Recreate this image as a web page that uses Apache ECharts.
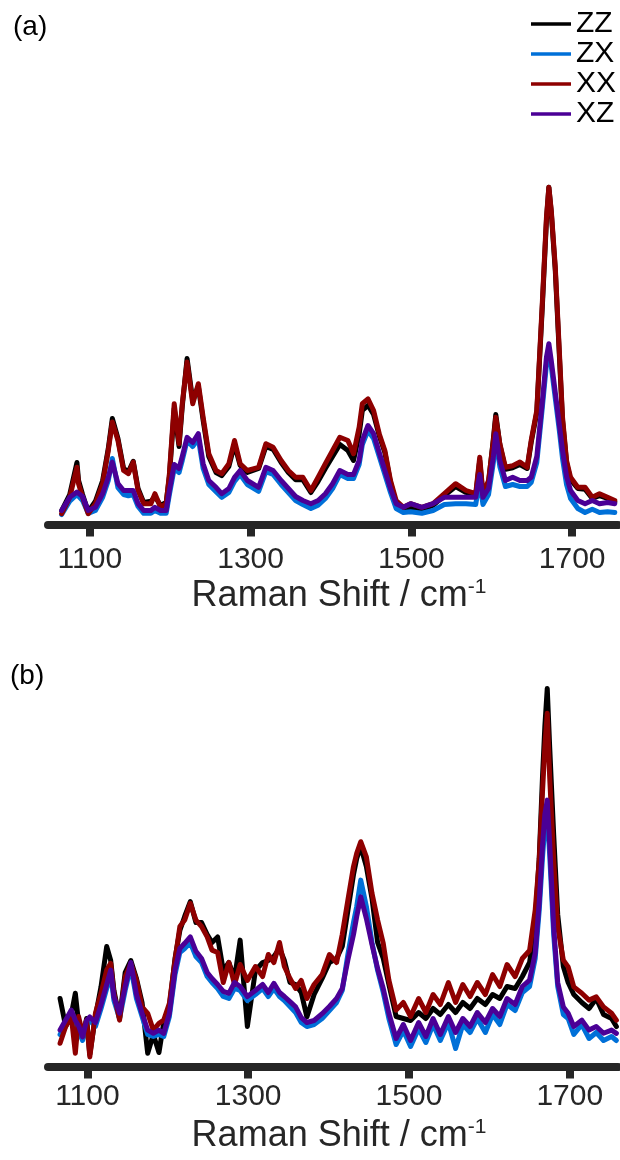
<!DOCTYPE html>
<html>
<head>
<meta charset="utf-8">
<script src="https://cdn.jsdelivr.net/npm/echarts@6/dist/echarts.min.js"></script>
<style>
html,body{margin:0;padding:0;background:#fff;}
#chart{width:620px;height:1160px;}
</style>
</head>
<body>
<div id="chart"></div>
<script>
// ---------- data ----------
const seriesNames = ['ZZ', 'ZX', 'XX', 'XZ'];
const tickValues = [1100, 1300, 1500, 1700];
const axisTitle = 'Raman Shift / cm';
const axisTitleSup = '-1';
const panelLabels = ['(a)', '(b)'];

// panel (a): Raman shift (cm-1)
const shiftA = [1065,1075,1084,1086,1091,1098,1107,1116,1123,1128,1135,1142,1148,1154,1160,1167,1176,1181,1188,1195,
  1199,1205,1211,1215,1221,1228,1235,1241,1248,1257,1264,1273,1280,1287,1296,1310,1319,1328,1338,1347,
  1356,1365,1375,1384,1393,1402,1411,1421,1428,1435,1439,1446,1453,1460,1467,1474,1481,1490,1499,1513,
  1527,1541,1555,1568,1580,1585,1589,1596,1602,1605,1610,1617,1626,1635,1644,1649,1656,1663,1668,1671,
  1674,1679,1684,1688,1693,1698,1707,1716,1725,1734,1744,1753];
const zzA = [3.5,7.5,15.5,11,7.5,3.2,5.8,11,19,26.5,21.5,14,13.2,15.8,9,5.5,5.8,7,4.8,5.5,
  12,29,19.5,29.5,41.5,31,34.5,26,17,13,12.2,14.5,20,14.8,13,14,19.5,18.8,15.5,13,
  11.2,11.2,8,10.8,14,17,20,18.5,16,22.5,28.5,29.8,27.5,22.2,18,10.5,5.2,3.5,4.2,3.8,
  4.8,7.2,9.5,8,7.2,16,7.2,10.5,21.5,27.5,20,13.8,14.2,15,14,20.5,28,55,76,84.3,
  78,63.5,42.5,26,15.5,11.2,9,8.8,6.5,7.2,6.5,5.6];
const zxA = [2.5,5.8,7.5,7.2,6,2.8,3.5,6.8,11,16.5,9.2,7.5,7.2,7.5,4.5,2.8,2.8,3.5,2.8,2.8,
  7.5,14,13,16,21,19.5,21.5,14,10,8.2,6.8,8,10.8,12.5,10,8.3,13.2,12.5,10,8,
  6,5,4,4.8,6.5,9,12.5,11.5,11.5,15,20,23.5,21.5,17,12.5,8,4,3,3.2,2.8,
  3.5,5,5.2,5.2,5,11,5,7.5,15.5,21.5,14.5,9.5,10,9.5,9.5,10.5,15.5,29.5,40,43.5,
  39.5,31.5,23.5,16.5,10,6.5,4,3,3.8,3,3.2,3];
const xxA = [2.7,6.8,14.3,10.2,6.8,2.7,5.2,10.2,18.5,25.6,21,13.5,12.7,15.6,8.5,5.2,5.2,7.7,4.3,5.2,
  12.7,30.2,20.2,30.2,40.6,30.2,35.2,26.8,17.7,13.5,12.7,15.2,21,15.2,13.5,14.3,20.2,19.3,16,13.5,
  11.8,11.8,8.5,11.8,15.2,18.5,21.8,21,17.7,24.3,30.2,31.4,28.5,22.7,18.5,11,6,4.3,5.2,4.3,
  5.2,7.7,10.2,8.5,7.7,16.8,7.7,11,21,26.8,20.2,14.3,14.7,15.6,14.3,21,28.5,56,76.8,84.3,
  78.5,64.3,43.5,26.8,16,11.8,9.3,9.3,6.8,7.7,6.8,6];
const xzA = [3.5,6.8,8.1,8,7,3.5,4.3,7.7,11.8,15.6,10.2,8.5,8.5,8.5,5.2,3.5,3.5,4.3,3.5,3.5,
  8.5,15,14,17,21.8,20.5,22.7,15.2,11,9.3,7.7,9,11.8,13.5,11,9.3,14.3,13.5,11,9,
  7,6,5.2,6,7.7,10.2,13.5,12.5,12.5,16,21,24.75,22.7,18,13.5,9,5.2,4.3,5.2,4.3,
  5.2,6.8,6.8,6.8,6.8,12.5,6.8,9,17,22.7,16,11,11.8,11,11,11.8,17,31,41.8,45.2,
  41,33,25,18.5,12,8.5,6,5.2,6,5.2,5.5,5.2];

// panel (b): Raman shift (cm-1)
const shiftB = [1066,1073,1080,1085,1089,1094,1099,1103,1110,1117,1124,1129,1133,1140,1147,1154,1161,1168,1175,1182,
  1189,1195,1202,1209,1215,1221,1228,1235,1242,1249,1255,1262,1269,1276,1283,1290,1299,1309,1318,1325,
  1332,1339,1345,1352,1359,1366,1373,1382,1392,1401,1410,1417,1424,1431,1435,1440,1447,1454,1461,1468,
  1475,1484,1493,1502,1512,1521,1530,1539,1549,1558,1567,1576,1585,1595,1604,1613,1622,1632,1641,1650,
  1657,1662,1666,1669,1672,1675,1680,1685,1692,1698,1705,1715,1724,1733,1742,1752,1758];
const zzB = [17,10,13,18.3,11,7,12,3,12.5,20,30,26.5,19,12,23.5,26.5,22,16,3.3,8,
  3.5,11,15,27,34,37.5,41.2,36,36,33,31,32.4,24,26,22,31.6,10,24,26,26.5,
  27.5,29.5,26.5,21,20.5,18.5,12.4,18,22,26,27,30,39,48,52,55,50,42,31,27,
  20.5,12.5,12,11.5,13.5,12,14.5,13,15.5,13.5,16,14.5,17,15.5,18,17,20,19.5,22.5,26,
  36,52,72,85,94.5,80,58,38,25,21,18,16,14.5,17,13,12,10];
const zxB = [8,10.5,13,10,9,6.5,10.5,11.5,10,14.5,19.5,23,16.5,12,19,25,17,12.5,8,7.5,
  8,7.5,12.5,23,28.5,29.5,31,27.5,26,22.5,21,19.5,17.5,17,19.5,19,16.5,18,19.5,17.5,
  19.5,17.5,16.5,15,13.5,11,10,10.5,12,14,16,19,28,36,40,46.6,40,31,24,18.5,
  12,5.5,9,5,9.5,6,10.5,6.5,11,4.5,10.5,8.5,12,8.5,13,10.5,15.5,14,18.5,20,
  27,39,52,60,63,53,33,20,13,12,8,10.5,7,8.5,6.5,7.5,6.5];
const xxB = [5.8,10,12.5,3.3,12.5,8.3,11.6,2.4,13.3,18.3,24.1,25.8,18.3,11.6,22.4,25.8,21.6,14.9,13.3,9.1,
  10.8,11.6,15.8,26.6,35,36.6,40.8,36.6,35,32.4,29.1,28.5,21,26,20.5,25.5,21.5,25,22.5,28,
  26,31,25,22,19.5,21.5,17,20.5,23,28,26,33,41.6,50,53.3,56.2,52.4,43.3,36.6,30.8,
  21.6,14.1,16,12.5,17,13.5,18,15.5,21,16,20.5,17.5,21,18,23,20,25.5,22.5,27,29,
  39.1,51.6,68.3,79.9,88.3,72.4,51.6,34.9,26.6,24.9,19.9,18.3,16.6,17.4,14.9,13.3,11.6];
const xzB = [9.1,11.6,14.1,11.5,10.2,7.4,11.5,12.4,11,15.5,20.5,24.1,17.4,13.3,19.9,26,18,13.3,9.1,8.3,
  9.1,8.3,13.3,24.1,29.5,30.8,32.4,28.8,27,23.5,22,20.5,18.8,18.3,21,20,17.5,19,20.5,18.5,
  20.8,18.5,17.5,16.2,14.9,12.2,11,11.5,13.2,15,17,19.5,26.6,33,37.5,42.4,37,30.5,24.5,19.5,
  13.3,7,10.5,6.5,11,7.5,12,8,12.5,8.5,12,10,13.5,11,14.5,12.5,17,15.5,20,21.6,
  28.3,41,54.9,63,66.6,55.8,34.9,21,14.9,13.3,10,11.6,9.1,10,8.3,9.1,8.3];

// ---------- chart ----------
const colors = ['#000000', '#0070D8', '#8E0000', '#4B0096'];
const FONT = 'Liberation Sans, Arial, Helvetica, sans-serif';
const AXC = '#262626';

function zip(xs, ys) { return xs.map((x, i) => [x, ys[i]]); }

function makeX(gridIndex, min, max, labelMargin, nameGap) {
  return {
    type: 'value', gridIndex, min, max,
    splitLine: { show: false },
    axisLine: { show: true, lineStyle: { color: AXC, width: 8 } },
    axisTick: { show: true, customValues: tickValues, length: 12, lineStyle: { color: AXC, width: 8 } },
    axisLabel: { customValues: tickValues, color: AXC, fontSize: 30, fontFamily: FONT, margin: labelMargin,
      formatter: v => String(v) },
    name: axisTitle + '{sup|' + axisTitleSup + '}',
    nameLocation: 'middle', nameGap: nameGap,
    nameTextStyle: { color: AXC, fontSize: 36, fontFamily: FONT, lineHeight: 40, padding: [0, 0, 0, 12],
      rich: { sup: { fontSize: 21, fontFamily: FONT, color: AXC, verticalAlign: 'top', lineHeight: 40, padding: [0, 0, 14, 0] } } }
  };
}
function makeY(gridIndex) {
  return { type: 'value', gridIndex, min: 0, max: 100, show: false, splitLine: { show: false } };
}

const dataA = [zzA, zxA, xxA, xzA];
const dataB = [zzB, zxB, xxB, xzB];
const series = [];
seriesNames.forEach((n, i) => {
  series.push({ name: n, type: 'line', xAxisIndex: 0, yAxisIndex: 0, data: zip(shiftA, dataA[i]),
    showSymbol: false, lineStyle: { width: 5, color: colors[i], join: 'round', cap: 'round' }, itemStyle: { color: colors[i] }, z: 2 + i });
});
seriesNames.forEach((n, i) => {
  series.push({ name: n, type: 'line', xAxisIndex: 1, yAxisIndex: 1, data: zip(shiftB, dataB[i]),
    showSymbol: false, lineStyle: { width: 5, color: colors[i], join: 'round', cap: 'round' }, itemStyle: { color: colors[i] }, z: 2 + i });
});

const chart = echarts.init(document.getElementById('chart'), null, { renderer: 'canvas' });
chart.setOption({
  animation: false,
  backgroundColor: '#fff',
  grid: [
    { left: 48, width: 570, top: 124.5, height: 400 },
    { left: 48, width: 570, top: 666.5, height: 400 }
  ],
  xAxis: [makeX(0, 1048, 1757, 20, 52), makeX(1, 1051, 1760, 15, 50)],
  yAxis: [makeY(0), makeY(1)],
  legend: {
    data: seriesNames, orient: 'vertical', left: 531, top: 9, icon: 'rect',
    itemWidth: 40, itemHeight: 3.5, itemGap: 0, padding: 0,
    textStyle: { color: '#000', fontSize: 30, fontFamily: FONT, lineHeight: 30 }
  },
  graphic: [
    { type: 'text', x: 13, y: 27, style: { text: panelLabels[0], fontSize: 28, fontFamily: FONT, fill: '#000', verticalAlign: 'middle' } },
    { type: 'text', x: 10, y: 676, style: { text: panelLabels[1], fontSize: 28, fontFamily: FONT, fill: '#000', verticalAlign: 'middle' } }
  ],
  series
});
</script>
</body>
</html>
